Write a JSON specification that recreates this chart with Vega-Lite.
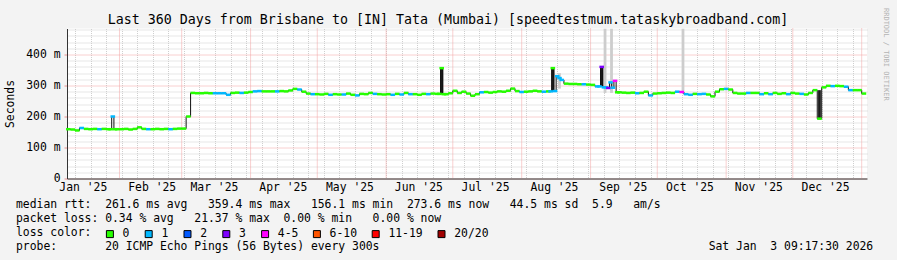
{
  "$schema": "https://vega.github.io/schema/vega-lite/v6.json",
  "width": 800,
  "height": 150,
  "autosize": {"type": "none"},
  "padding": {"left": 67, "top": 28.5, "right": 30, "bottom": 81.5},
  "background": "#f3f3f3",
  "config": {
    "font": "DejaVu Sans Mono",
    "view": {"stroke": null, "fill": "#ffffff"}
  },
  "title": {
    "text": "Last 360 Days from Brisbane to [IN] Tata (Mumbai) [speedtestmum.tataskybroadband.com]",
    "font": "DejaVu Sans Mono",
    "fontSize": 13.3,
    "fontWeight": "normal",
    "color": "#000000",
    "anchor": "middle",
    "frame": "group",
    "dx": -19,
    "dy": 34,
    "baseline": "alphabetic",
    "offset": 4.5
  },
  "datasets": {
    "months": [
      {"d": "2025-02-01"}, {"d": "2025-03-01"}, {"d": "2025-04-01"}, {"d": "2025-05-01"},
      {"d": "2025-06-01"}, {"d": "2025-07-01"}, {"d": "2025-08-01"}, {"d": "2025-09-01"},
      {"d": "2025-10-01"}, {"d": "2025-11-01"}, {"d": "2025-12-01"}, {"d": "2026-01-01"}
    ],
    "smoke": [
      {"d": "2025-09-07T12:00:00Z", "lo": 276, "hi": 483, "k": "light"},
      {"d": "2025-09-10T10:00:00Z", "lo": 276, "hi": 483, "k": "light"},
      {"d": "2025-10-12T14:00:00Z", "lo": 279, "hi": 483, "k": "light"},
      {"d": "2025-08-18T00:00:00Z", "lo": 290, "hi": 340, "k": "light"},
      {"d": "2025-06-26", "lo": 272, "hi": 356, "k": "dark"},
      {"d": "2025-08-15", "lo": 281, "hi": 356, "k": "dark"},
      {"d": "2025-09-06", "lo": 297, "hi": 360, "k": "dark"},
      {"d": "2025-12-13", "lo": 193, "hi": 285, "k": "dark"}
    ],
    "median": [
      {"d": "2025-01-09", "v": 159, "l": "0"}, {"d": "2025-01-11", "v": 158, "l": "0"},
      {"d": "2025-01-13", "v": 155, "l": "0"}, {"d": "2025-01-15", "v": 163, "l": "1"},
      {"d": "2025-01-17", "v": 160, "l": "0"}, {"d": "2025-01-19", "v": 159, "l": "0"},
      {"d": "2025-01-21", "v": 160, "l": "0"}, {"d": "2025-01-23", "v": 159, "l": "1"},
      {"d": "2025-01-25", "v": 160, "l": "0"}, {"d": "2025-01-27", "v": 159, "l": "0"},
      {"d": "2025-01-28", "v": 159, "l": "0"},
      {"d": "2025-01-29", "v": 200, "l": "1"}, {"d": "2025-01-30", "v": 159, "l": "0"},
      {"d": "2025-01-31", "v": 159, "l": "0"},
      {"d": "2025-02-02", "v": 159, "l": "0"}, {"d": "2025-02-04", "v": 160, "l": "0"},
      {"d": "2025-02-06", "v": 158, "l": "0"}, {"d": "2025-02-08", "v": 160, "l": "0"},
      {"d": "2025-02-10", "v": 165, "l": "0"}, {"d": "2025-02-12", "v": 160, "l": "0"},
      {"d": "2025-02-14", "v": 159, "l": "1"}, {"d": "2025-02-16", "v": 159, "l": "0"},
      {"d": "2025-02-18", "v": 160, "l": "0"}, {"d": "2025-02-20", "v": 159, "l": "0"},
      {"d": "2025-02-22", "v": 160, "l": "0"}, {"d": "2025-02-24", "v": 159, "l": "1"},
      {"d": "2025-02-26", "v": 160, "l": "0"}, {"d": "2025-02-28", "v": 161, "l": "0"},
      {"d": "2025-03-02", "v": 161, "l": "0"}, {"d": "2025-03-04", "v": 200, "l": "0"},
      {"d": "2025-03-06", "v": 276, "l": "0"}, {"d": "2025-03-08", "v": 275, "l": "0"},
      {"d": "2025-03-10", "v": 275, "l": "0"}, {"d": "2025-03-12", "v": 276, "l": "0"},
      {"d": "2025-03-14", "v": 275, "l": "0"}, {"d": "2025-03-16", "v": 275, "l": "1"},
      {"d": "2025-03-18", "v": 275, "l": "1"}, {"d": "2025-03-20", "v": 275, "l": "1"},
      {"d": "2025-03-22", "v": 270, "l": "1"}, {"d": "2025-03-24", "v": 276, "l": "0"},
      {"d": "2025-03-26", "v": 277, "l": "0"}, {"d": "2025-03-28", "v": 276, "l": "1"},
      {"d": "2025-03-30", "v": 277, "l": "0"}, {"d": "2025-04-01", "v": 279, "l": "0"},
      {"d": "2025-04-03", "v": 281, "l": "1"}, {"d": "2025-04-05", "v": 282, "l": "1"},
      {"d": "2025-04-07", "v": 281, "l": "0"}, {"d": "2025-04-09", "v": 281, "l": "0"},
      {"d": "2025-04-11", "v": 281, "l": "0"}, {"d": "2025-04-13", "v": 281, "l": "1"},
      {"d": "2025-04-15", "v": 282, "l": "0"}, {"d": "2025-04-17", "v": 281, "l": "0"},
      {"d": "2025-04-19", "v": 284, "l": "0"}, {"d": "2025-04-21", "v": 289, "l": "0"},
      {"d": "2025-04-23", "v": 287, "l": "1"}, {"d": "2025-04-25", "v": 280, "l": "0"},
      {"d": "2025-04-27", "v": 274, "l": "0"}, {"d": "2025-04-29", "v": 272, "l": "1"},
      {"d": "2025-05-01", "v": 272, "l": "0"}, {"d": "2025-05-03", "v": 271, "l": "0"},
      {"d": "2025-05-05", "v": 273, "l": "0"}, {"d": "2025-05-07", "v": 270, "l": "1"},
      {"d": "2025-05-09", "v": 272, "l": "0"}, {"d": "2025-05-11", "v": 271, "l": "0"},
      {"d": "2025-05-13", "v": 271, "l": "1"}, {"d": "2025-05-15", "v": 274, "l": "0"},
      {"d": "2025-05-17", "v": 270, "l": "0"}, {"d": "2025-05-19", "v": 268, "l": "1"},
      {"d": "2025-05-21", "v": 273, "l": "0"}, {"d": "2025-05-23", "v": 272, "l": "0"},
      {"d": "2025-05-25", "v": 276, "l": "0"}, {"d": "2025-05-27", "v": 273, "l": "1"},
      {"d": "2025-05-29", "v": 272, "l": "0"}, {"d": "2025-05-31", "v": 271, "l": "0"},
      {"d": "2025-06-02", "v": 272, "l": "0"}, {"d": "2025-06-04", "v": 270, "l": "1"},
      {"d": "2025-06-06", "v": 273, "l": "0"}, {"d": "2025-06-08", "v": 271, "l": "1"},
      {"d": "2025-06-10", "v": 276, "l": "0"}, {"d": "2025-06-12", "v": 272, "l": "1"},
      {"d": "2025-06-14", "v": 272, "l": "0"}, {"d": "2025-06-16", "v": 270, "l": "0"},
      {"d": "2025-06-18", "v": 273, "l": "0"}, {"d": "2025-06-20", "v": 272, "l": "1"},
      {"d": "2025-06-22", "v": 274, "l": "0"}, {"d": "2025-06-24", "v": 273, "l": "0"},
      {"d": "2025-06-25", "v": 273, "l": "0"},
      {"d": "2025-06-26", "v": 356, "l": "0"}, {"d": "2025-06-27", "v": 272, "l": "0"},
      {"d": "2025-06-28", "v": 272, "l": "0"},
      {"d": "2025-06-30", "v": 275, "l": "0"}, {"d": "2025-07-02", "v": 283, "l": "0"},
      {"d": "2025-07-04", "v": 276, "l": "0"}, {"d": "2025-07-06", "v": 280, "l": "0"},
      {"d": "2025-07-08", "v": 274, "l": "0"}, {"d": "2025-07-10", "v": 267, "l": "0"},
      {"d": "2025-07-12", "v": 272, "l": "0"}, {"d": "2025-07-14", "v": 278, "l": "1"},
      {"d": "2025-07-16", "v": 279, "l": "0"}, {"d": "2025-07-18", "v": 277, "l": "0"},
      {"d": "2025-07-20", "v": 279, "l": "0"}, {"d": "2025-07-22", "v": 281, "l": "0"},
      {"d": "2025-07-24", "v": 280, "l": "0"}, {"d": "2025-07-26", "v": 283, "l": "0"},
      {"d": "2025-07-28", "v": 290, "l": "0"}, {"d": "2025-07-30", "v": 282, "l": "0"},
      {"d": "2025-08-01", "v": 279, "l": "1"}, {"d": "2025-08-03", "v": 280, "l": "0"},
      {"d": "2025-08-05", "v": 281, "l": "0"}, {"d": "2025-08-07", "v": 283, "l": "0"},
      {"d": "2025-08-09", "v": 281, "l": "0"}, {"d": "2025-08-11", "v": 280, "l": "1"},
      {"d": "2025-08-13", "v": 281, "l": "0"}, {"d": "2025-08-14", "v": 281, "l": "1"},
      {"d": "2025-08-15", "v": 356, "l": "0"}, {"d": "2025-08-16", "v": 282, "l": "1"},
      {"d": "2025-08-17", "v": 330, "l": "1"}, {"d": "2025-08-18", "v": 324, "l": "1"},
      {"d": "2025-08-19", "v": 318, "l": "1"},
      {"d": "2025-08-21", "v": 306, "l": "0"}, {"d": "2025-08-23", "v": 305, "l": "0"},
      {"d": "2025-08-25", "v": 305, "l": "0"}, {"d": "2025-08-27", "v": 304, "l": "0"},
      {"d": "2025-08-29", "v": 304, "l": "1"}, {"d": "2025-08-31", "v": 303, "l": "0"},
      {"d": "2025-09-02", "v": 302, "l": "0"}, {"d": "2025-09-04", "v": 297, "l": "1"},
      {"d": "2025-09-05", "v": 297, "l": "1"},
      {"d": "2025-09-06", "v": 360, "l": "3"}, {"d": "2025-09-07", "v": 294, "l": "1"},
      {"d": "2025-09-08", "v": 294, "l": "1"}, {"d": "2025-09-09", "v": 292, "l": "3"},
      {"d": "2025-09-10", "v": 310, "l": "1"}, {"d": "2025-09-11", "v": 293, "l": "1"},
      {"d": "2025-09-12", "v": 315, "l": "4-5"}, {"d": "2025-09-13", "v": 278, "l": "0"},
      {"d": "2025-09-14", "v": 278, "l": "0"}, {"d": "2025-09-16", "v": 277, "l": "0"},
      {"d": "2025-09-18", "v": 276, "l": "0"}, {"d": "2025-09-20", "v": 277, "l": "0"},
      {"d": "2025-09-22", "v": 275, "l": "1"}, {"d": "2025-09-24", "v": 276, "l": "0"},
      {"d": "2025-09-26", "v": 280, "l": "0"}, {"d": "2025-09-28", "v": 268, "l": "1"},
      {"d": "2025-09-30", "v": 274, "l": "0"}, {"d": "2025-10-02", "v": 275, "l": "0"},
      {"d": "2025-10-04", "v": 276, "l": "0"}, {"d": "2025-10-06", "v": 277, "l": "0"},
      {"d": "2025-10-08", "v": 276, "l": "0"}, {"d": "2025-10-10", "v": 280, "l": "1"},
      {"d": "2025-10-12", "v": 279, "l": "4-5"}, {"d": "2025-10-14", "v": 272, "l": "1"},
      {"d": "2025-10-16", "v": 270, "l": "1"}, {"d": "2025-10-18", "v": 273, "l": "0"},
      {"d": "2025-10-20", "v": 272, "l": "1"}, {"d": "2025-10-22", "v": 273, "l": "1"},
      {"d": "2025-10-24", "v": 271, "l": "0"}, {"d": "2025-10-26", "v": 265, "l": "0"},
      {"d": "2025-10-28", "v": 280, "l": "0"}, {"d": "2025-10-30", "v": 288, "l": "0"},
      {"d": "2025-11-01", "v": 289, "l": "1"}, {"d": "2025-11-03", "v": 287, "l": "0"},
      {"d": "2025-11-05", "v": 276, "l": "0"}, {"d": "2025-11-07", "v": 274, "l": "0"},
      {"d": "2025-11-09", "v": 274, "l": "0"}, {"d": "2025-11-11", "v": 276, "l": "1"},
      {"d": "2025-11-13", "v": 276, "l": "0"}, {"d": "2025-11-15", "v": 276, "l": "0"},
      {"d": "2025-11-17", "v": 272, "l": "1"}, {"d": "2025-11-19", "v": 275, "l": "0"},
      {"d": "2025-11-21", "v": 272, "l": "1"}, {"d": "2025-11-23", "v": 276, "l": "0"},
      {"d": "2025-11-25", "v": 273, "l": "0"}, {"d": "2025-11-27", "v": 275, "l": "0"},
      {"d": "2025-11-29", "v": 272, "l": "1"}, {"d": "2025-12-01", "v": 276, "l": "0"},
      {"d": "2025-12-03", "v": 274, "l": "0"}, {"d": "2025-12-05", "v": 273, "l": "1"},
      {"d": "2025-12-07", "v": 271, "l": "0"}, {"d": "2025-12-09", "v": 276, "l": "0"},
      {"d": "2025-12-11", "v": 285, "l": "0"}, {"d": "2025-12-13", "v": 193, "l": "0"},
      {"d": "2025-12-15", "v": 294, "l": "0"}, {"d": "2025-12-17", "v": 299, "l": "0"},
      {"d": "2025-12-19", "v": 298, "l": "1"}, {"d": "2025-12-21", "v": 299, "l": "0"},
      {"d": "2025-12-23", "v": 298, "l": "0"}, {"d": "2025-12-25", "v": 296, "l": "1"},
      {"d": "2025-12-27", "v": 285, "l": "1"}, {"d": "2025-12-29", "v": 285, "l": "0"},
      {"d": "2025-12-31", "v": 285, "l": "0"}, {"d": "2026-01-02", "v": 274, "l": "0"}
    ]
  },
  "layer": [
    {
      "data": {"name": "months"},
      "mark": {"type": "rule", "color": "#f2a0a0", "strokeWidth": 1, "strokeDash": [1, 1]},
      "encoding": {
        "x": {
          "field": "d", "type": "temporal",
          "scale": {"type": "utc", "domain": [
            {"year": 2025, "month": 1, "date": 8, "hours": 9, "minutes": 17, "seconds": 30, "utc": true},
            {"year": 2026, "month": 1, "date": 3, "hours": 9, "minutes": 17, "seconds": 30, "utc": true}
          ]},
          "axis": {
            "orient": "top", "grid": true, "gridColor": "#cfcfcf", "gridDash": [1, 1], "gridWidth": 1,
            "tickCount": {"interval": "week", "step": 1},
            "labels": false, "ticks": false, "domain": false, "title": null
          }
        }
      }
    },
    {
      "data": {"name": "smoke"},
      "mark": {"type": "rule", "strokeWidth": 2.8},
      "encoding": {
        "x": {"field": "d", "type": "temporal", "axis": null},
        "y": {
          "field": "lo", "type": "quantitative",
          "scale": {"domain": [0, 483.87], "nice": false, "zero": false},
          "axis": {
            "orient": "right", "grid": true, "gridColor": "#cfcfcf", "gridDash": [1, 1],
            "values": [20, 40, 60, 80, 120, 140, 160, 180, 220, 240, 260, 280, 320, 340, 360, 380, 420, 440, 460, 480],
            "labels": false, "ticks": false, "domain": false,
            "title": "RRDTOOL / TOBI OETIKER",
            "titleFont": "DejaVu Sans Mono", "titleFontSize": 7, "titleFontWeight": "normal",
            "titleColor": "#b4b4b4", "titleAngle": 90, "titleAlign": "left", "titleBaseline": "middle",
            "titleX": 18, "titleY": -21
          }
        },
        "y2": {"field": "hi"},
        "stroke": {
          "field": "k", "type": "nominal",
          "scale": {"domain": ["light", "dark"], "range": ["#cdcdcd", "#1c1c1c"]},
          "legend": null
        }
      }
    },
    {
      "data": {"name": "median"},
      "mark": {"type": "line", "interpolate": "step", "color": "#101010", "strokeWidth": 1},
      "encoding": {
        "x": {
          "field": "d", "type": "temporal",
          "axis": {
            "orient": "bottom",
            "values": [
              {"year": 2025, "month": 1, "date": 15, "hours": 12, "utc": true},
              {"year": 2025, "month": 2, "date": 15, "hours": 12, "utc": true},
              {"year": 2025, "month": 3, "date": 15, "hours": 12, "utc": true},
              {"year": 2025, "month": 4, "date": 15, "hours": 12, "utc": true},
              {"year": 2025, "month": 5, "date": 15, "hours": 12, "utc": true},
              {"year": 2025, "month": 6, "date": 15, "hours": 12, "utc": true},
              {"year": 2025, "month": 7, "date": 15, "hours": 12, "utc": true},
              {"year": 2025, "month": 8, "date": 15, "hours": 12, "utc": true},
              {"year": 2025, "month": 9, "date": 15, "hours": 12, "utc": true},
              {"year": 2025, "month": 10, "date": 15, "hours": 12, "utc": true},
              {"year": 2025, "month": 11, "date": 15, "hours": 12, "utc": true},
              {"year": 2025, "month": 12, "date": 15, "hours": 12, "utc": true}
            ],
            "labelExpr": "utcFormat(datum.value, \"%b '%y\")",
            "labelFont": "DejaVu Sans Mono", "labelFontSize": 11.4, "labelColor": "#000000",
            "labelBaseline": "alphabetic", "labelPadding": 11.5, "labelFlush": false, "labelOverlap": false,
            "ticks": false, "tickSize": 0, "grid": false,
            "domain": true, "domainColor": "#333333", "domainWidth": 1,
            "title": [
              "median rtt:\u00a0\u00a0261.6 ms avg\u00a0\u00a0\u00a0359.4 ms max\u00a0\u00a0\u00a0156.1 ms min\u00a0\u00a0273.6 ms now\u00a0\u00a0\u00a044.5 ms sd\u00a0\u00a05.9\u00a0\u00a0\u00a0am/s",
              "packet loss: 0.34 % avg\u00a0\u00a0\u00a021.37 % max\u00a0\u00a00.00 % min\u00a0\u00a0\u00a00.00 % now",
              "loss color:",
              "probe:\u00a0\u00a0\u00a0\u00a0\u00a0\u00a0\u00a020 ICMP Echo Pings (56 Bytes) every 300s\u00a0\u00a0\u00a0\u00a0\u00a0\u00a0\u00a0\u00a0\u00a0\u00a0\u00a0\u00a0\u00a0\u00a0\u00a0\u00a0\u00a0\u00a0\u00a0\u00a0\u00a0\u00a0\u00a0\u00a0\u00a0\u00a0\u00a0\u00a0\u00a0\u00a0\u00a0\u00a0\u00a0\u00a0\u00a0\u00a0\u00a0\u00a0\u00a0\u00a0\u00a0\u00a0\u00a0\u00a0\u00a0\u00a0\u00a0\u00a0Sat Jan\u00a0\u00a03 09:17:30 2026"
            ],
            "titleFont": "DejaVu Sans Mono", "titleFontSize": 11.4, "titleFontWeight": "normal",
            "titleColor": "#000000", "titleAlign": "left", "titleAnchor": "start",
            "titleBaseline": "alphabetic", "titleLineHeight": 14,
            "titleX": -51.5, "titleY": 29.2
          }
        },
        "y": {
          "field": "v", "type": "quantitative",
          "axis": {
            "orient": "left",
            "values": [0, 100, 200, 300, 400],
            "labelExpr": "datum.value == 0 ? '0\u00a0\u00a0' : datum.value + ' m'",
            "labelFont": "DejaVu Sans Mono", "labelFontSize": 11.4, "labelColor": "#000000",
            "labelPadding": 4, "ticks": true, "tickSize": 3, "tickColor": "#e89090",
            "grid": true, "gridColor": "#f2a0a0", "gridDash": [1, 1],
            "domain": true, "domainColor": "#333333",
            "title": "Seconds", "titleFont": "DejaVu Sans Mono", "titleFontSize": 11.4,
            "titleFontWeight": "normal", "titleColor": "#000000", "titlePadding": 10
          }
        }
      }
    },
    {
      "data": {"name": "median"},
      "mark": {"type": "tick", "orient": "horizontal", "size": 4.6, "thickness": 2.5, "opacity": 1},
      "encoding": {
        "x": {"field": "d", "type": "temporal", "axis": null},
        "y": {"field": "v", "type": "quantitative", "axis": null},
        "color": {
          "field": "l", "type": "nominal",
          "scale": {
            "domain": ["0", "1", "2", "3", "4-5", "6-10", "11-19", "20/20"],
            "range": ["#26ff00", "#00b8ff", "#0059ff", "#7e00ff", "#ff00ff", "#ff5500", "#ff0000", "#a10000"]
          },
          "legend": {
            "orient": "none", "legendX": 37.2, "legendY": 199.5,
            "direction": "horizontal", "title": null, "padding": 0,
            "symbolType": "square", "symbolSize": 49, "symbolStrokeWidth": 1, "symbolStrokeColor": "#000000",
            "symbolOpacity": 1,
            "labelFont": "DejaVu Sans Mono", "labelFontSize": 11.4, "labelColor": "#000000",
            "labelOffset": 7, "columnPadding": 12.8,
            "encode": {"symbols": {"update": {"stroke": {"value": "#000000"}, "strokeWidth": {"value": 1}}}}
          }
        }
      }
    }
  ],
  "resolve": {"axis": {"x": "independent", "y": "independent"}}
}
